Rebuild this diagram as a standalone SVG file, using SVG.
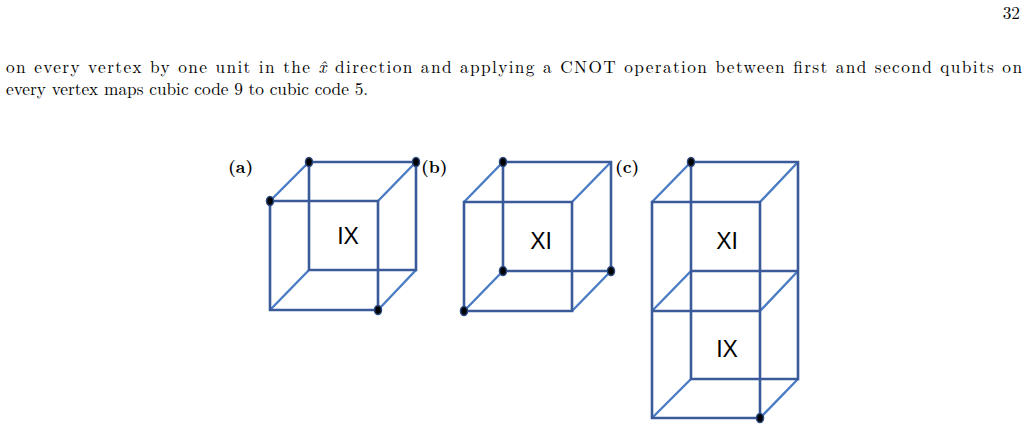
<svg xmlns="http://www.w3.org/2000/svg" width="1028" height="432" viewBox="0 0 1028 432">
<style>
.t{font-family:"Latin Modern Roman","Liberation Serif",serif;font-size:17.3px;fill:#000}
.lb{font-family:"Latin Modern Roman","DejaVu Serif",serif;font-size:17.3px;font-weight:bold;fill:#000}
.e{stroke:#3A5A9A;stroke-width:2.6;fill:none}
.d{stroke:#4A7CC4;stroke-width:2.4;fill:none}
.v{fill:#000;stroke:#2A4A80;stroke-width:1.5}
.k{font-family:"Liberation Sans",Arial,sans-serif;font-size:23px;fill:#000}
</style>
<rect width="1028" height="432" fill="#fff"/>
<text class="t" x="1020" y="19" text-anchor="end">32</text>
<text class="t" x="6" y="73" textLength="1016" lengthAdjust="spacing">on every vertex by one unit in the <tspan font-style="italic">x̂</tspan> direction and applying a CNOT operation between first and second qubits on</text>
<text class="t" x="6" y="95">every vertex maps cubic code 9 to cubic code 5.</text>
<text class="lb" x="228" y="173">(a)</text>
<text class="lb" x="421" y="173">(b)</text>
<text class="lb" x="615" y="173">(c)</text>
<g id="cubeA">
<path class="d" d="M270 201L309 162M378 201L416 162M378 310L416 270M270 310L309 270"/>
<path class="e" d="M309 162H416V270H309Z"/>
<path class="e" d="M270 201H378V310H270Z"/>
<text class="k" x="348" y="244" text-anchor="middle">IX</text>
<ellipse class="v" cx="309" cy="162" rx="3.5" ry="4.5"/>
<ellipse class="v" cx="416" cy="162" rx="3.5" ry="4.5"/>
<ellipse class="v" cx="270" cy="201" rx="3.5" ry="4.5"/>
<ellipse class="v" cx="378" cy="310" rx="3.5" ry="4.5"/>
</g>
<g id="cubeB">
<path class="d" d="M464 202L503 162M572 202L611 162M572 311L611 271M464 311L503 271"/>
<path class="e" d="M503 162H611V271H503Z"/>
<path class="e" d="M464 202H572V311H464Z"/>
<text class="k" x="541" y="249" text-anchor="middle">XI</text>
<ellipse class="v" cx="503" cy="162" rx="3.5" ry="4.5"/>
<ellipse class="v" cx="503" cy="271" rx="3.5" ry="4.5"/>
<ellipse class="v" cx="611" cy="271" rx="3.5" ry="4.5"/>
<ellipse class="v" cx="464" cy="311" rx="3.5" ry="4.5"/>
</g>
<g id="cubeC">
<path class="d" d="M652 202L691 162M760 202L798 162M652 311L691 271M760 311L798 271M652 418L691 379M760 418L798 379"/>
<path class="e" d="M691 162H798V379H691ZM691 271H798"/>
<path class="e" d="M652 202H760V418H652ZM652 311H760"/>
<text class="k" x="727" y="249" text-anchor="middle">XI</text>
<text class="k" x="727" y="357" text-anchor="middle">IX</text>
<ellipse class="v" cx="691" cy="162" rx="3.5" ry="4.5"/>
<ellipse class="v" cx="760" cy="418" rx="3.5" ry="4.5"/>
</g>
<g id="connectors"/>
</svg>
